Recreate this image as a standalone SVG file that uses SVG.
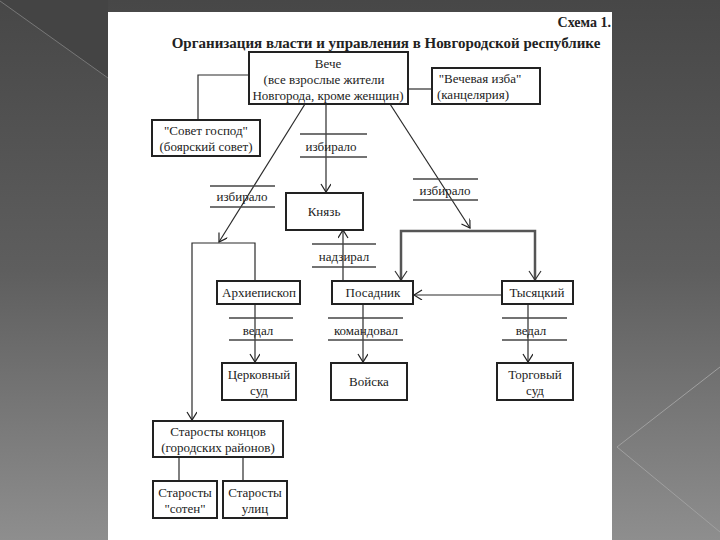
<svg xmlns="http://www.w3.org/2000/svg" width="720" height="540" viewBox="0 0 720 540">
<defs>
<linearGradient id="bg" x1="0" y1="0" x2="0" y2="1">
<stop offset="0" stop-color="#474747"/>
<stop offset="0.5" stop-color="#5e5e5e"/>
<stop offset="1" stop-color="#8e8e8e"/>
</linearGradient>
<marker id="arr" markerWidth="12" markerHeight="12" refX="9" refY="5" orient="auto" markerUnits="userSpaceOnUse">
<path d="M1,0 L9,5 L1,10" fill="none" stroke="#222" stroke-width="1.2"/>
</marker>
<style>
.box{fill:#fff;stroke:#222;stroke-width:2}
.t{font-family:Liberation Serif, Times New Roman, serif;font-size:13px;fill:#222;text-anchor:middle}
.c{stroke:#2a2a2a;stroke-width:1.2;fill:none}
.thick{stroke:#555;stroke-width:2.5;fill:none}
.div{stroke:#444;stroke-width:1.5}
</style>
</defs>
<rect x="0" y="0" width="720" height="540" fill="url(#bg)"/>
<polygon points="0,0 108,0 108,78" fill="#444"/>
<line x1="0" y1="1" x2="108" y2="78" stroke="#777" stroke-width="1"/>
<polyline points="720,367 617,447 720,532" fill="none" stroke="#a0a0a0" stroke-width="1"/>
<rect x="108" y="12" width="504" height="528" fill="#fff"/>

<text x="611" y="27" font-family="Liberation Serif, serif" font-weight="bold" font-size="14" fill="#222" text-anchor="end">Схема 1.</text>
<text x="386" y="48" font-family="Liberation Serif, serif" font-weight="bold" font-size="15" fill="#222" text-anchor="middle">Организация власти и управления в Новгородской республике</text>

<g id="connectors">
<polyline class="c" points="249,75 198,75 198,120"/>
<line class="c" x1="408" y1="89" x2="432" y2="89"/>
<line class="c" x1="305" y1="104" x2="219" y2="242" marker-end="url(#arr)"/>
<line class="c" x1="326" y1="104" x2="326" y2="192" marker-end="url(#arr)"/>
<line class="c" x1="390" y1="104" x2="470" y2="228" marker-end="url(#arr)"/>
<polyline class="thick" points="401,280 401,231 535,231 535,280"/>
<path d="M395,271 L401,280 L407,271 M529,271 L535,280 L541,271" fill="none" stroke="#333" stroke-width="1.2"/>
<polyline class="c" points="255,281 255,243 192,243 192,420" marker-end="url(#arr)"/>
<line class="c" x1="343" y1="281" x2="343" y2="230" marker-end="url(#arr)"/>
<line class="c" x1="502" y1="295" x2="414" y2="295" marker-end="url(#arr)"/>
<line class="c" x1="255" y1="304" x2="255" y2="362" marker-end="url(#arr)"/>
<line class="c" x1="363" y1="304" x2="363" y2="362" marker-end="url(#arr)"/>
<line class="c" x1="528" y1="304" x2="528" y2="362" marker-end="url(#arr)"/>
<line class="c" x1="179" y1="457" x2="179" y2="481"/>
<line class="c" x1="243" y1="457" x2="243" y2="481"/>
</g>

<g font-family="Liberation Serif, serif">
<g id="label-izbiralo-1">
<line class="div" x1="210" y1="186" x2="275" y2="186"/>
<line class="div" x1="210" y1="207" x2="275" y2="207"/>
<text class="t" x="242" y="201">избирало</text>
</g>
<g id="label-izbiralo-2">
<line class="div" x1="300" y1="134" x2="367" y2="134"/>
<line class="div" x1="300" y1="157" x2="367" y2="157"/>
<text class="t" x="331" y="151">избирало</text>
</g>
<g id="label-izbiralo-3">
<line class="div" x1="413" y1="179" x2="478" y2="179"/>
<line class="div" x1="413" y1="200" x2="478" y2="200"/>
<text class="t" x="445" y="195">избирало</text>
</g>
<g id="label-nadziral">
<line class="div" x1="312" y1="244" x2="376" y2="244"/>
<line class="div" x1="312" y1="267" x2="376" y2="267"/>
<text class="t" x="344" y="261">надзирал</text>
</g>
<g id="label-vedal-1">
<line class="div" x1="229" y1="318" x2="293" y2="318"/>
<line class="div" x1="229" y1="340" x2="293" y2="340"/>
<text class="t" x="258" y="335">ведал</text>
</g>
<g id="label-komandoval">
<line class="div" x1="328" y1="318" x2="403" y2="318"/>
<line class="div" x1="328" y1="340" x2="403" y2="340"/>
<text class="t" x="366" y="335">командовал</text>
</g>
<g id="label-vedal-2">
<line class="div" x1="502" y1="318" x2="567" y2="318"/>
<line class="div" x1="502" y1="340" x2="567" y2="340"/>
<text class="t" x="531" y="335">ведал</text>
</g>

<g id="veche">
<rect class="box" x="249" y="52" width="159" height="52"/>
<text class="t" x="328" y="68">Вече</text>
<text class="t" x="324" y="84">(все взрослые жители</text>
<text class="t" x="328" y="100">Новгорода, кроме женщин)</text>
</g>
<g id="izba">
<rect class="box" x="432" y="68" width="108" height="36"/>
<text class="t" x="480" y="83">"Вечевая изба"</text>
<text class="t" x="473" y="99">(канцелярия)</text>
</g>
<g id="sovet">
<rect class="box" x="152" y="120" width="108" height="36"/>
<text class="t" x="206" y="135">"Совет господ"</text>
<text class="t" x="206" y="151">(боярский совет)</text>
</g>
<g id="knyaz">
<rect class="box" x="286" y="193" width="77" height="37"/>
<text class="t" x="324" y="216">Князь</text>
</g>
<g id="arkhiepiskop">
<rect class="box" x="217" y="281" width="83" height="23"/>
<text class="t" x="259" y="297">Архиепископ</text>
</g>
<g id="posadnik">
<rect class="box" x="332" y="281" width="81" height="23"/>
<text class="t" x="373" y="297">Посадник</text>
</g>
<g id="tysyatsky">
<rect class="box" x="502" y="281" width="71" height="23"/>
<text class="t" x="537" y="297">Тысяцкий</text>
</g>
<g id="tserkovny-sud">
<rect class="box" x="222" y="363" width="74" height="37"/>
<text class="t" x="259" y="379">Церковный</text>
<text class="t" x="259" y="395">суд</text>
</g>
<g id="voyska">
<rect class="box" x="331" y="363" width="76" height="37"/>
<text class="t" x="369" y="386">Войска</text>
</g>
<g id="torgovy-sud">
<rect class="box" x="497" y="363" width="76" height="37"/>
<text class="t" x="535" y="379">Торговый</text>
<text class="t" x="535" y="395">суд</text>
</g>
<g id="starosty-kontsov">
<rect class="box" x="153" y="421" width="130" height="36"/>
<text class="t" x="218" y="436">Старосты концов</text>
<text class="t" x="218" y="452">(городских районов)</text>
</g>
<g id="starosty-soten">
<rect class="box" x="153" y="481" width="64" height="37"/>
<text class="t" x="185" y="497">Старосты</text>
<text class="t" x="185" y="513">"сотен"</text>
</g>
<g id="starosty-ulits">
<rect class="box" x="223" y="481" width="64" height="37"/>
<text class="t" x="255" y="497">Старосты</text>
<text class="t" x="255" y="513">улиц</text>
</g>
</g>
</svg>
